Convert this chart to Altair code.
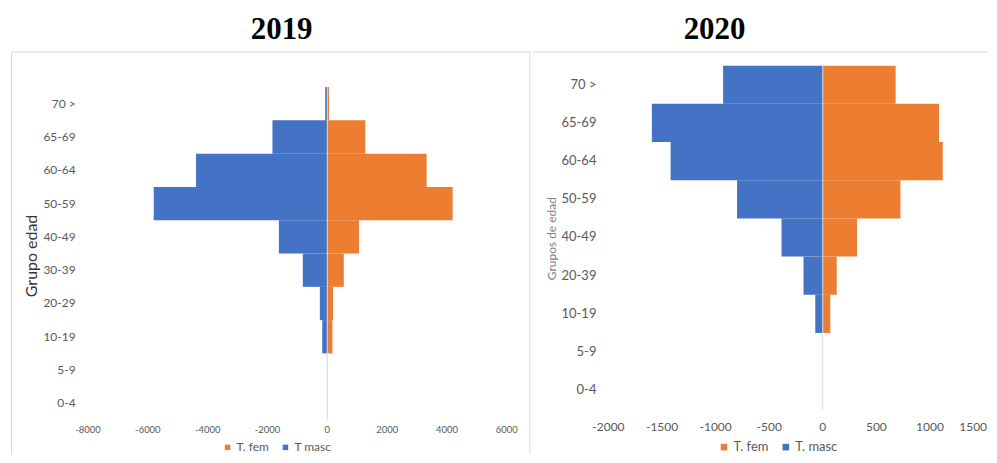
import altair as alt
import pandas as pd

# ---- data ----
grupos_2019 = ['70 >', '65-69', '60-64', '50-59', '40-49', '30-39', '20-29', '10-19', '5-9', '0-4']
fem_2019 = [55, 1270, 3320, 4190, 1060, 550, 190, 170, 0, 0]
masc_2019 = [-70, -1835, -4390, -5805, -1620, -820, -250, -170, 0, 0]
series_2019 = ['T. fem', 'T masc']
ticks_2019 = [-8000, -6000, -4000, -2000, 0, 2000, 4000, 6000]

grupos_2020 = ['70 >', '65-69', '60-64', '50-59', '40-49', '20-39', '10-19', '5-9', '0-4']
fem_2020 = [680, 1085, 1120, 725, 320, 130, 70, 0, 0]
masc_2020 = [-930, -1595, -1420, -800, -385, -180, -70, 0, 0]
series_2020 = ['T. fem', 'T. masc']
ticks_2020 = [-2000, -1500, -1000, -500, 0, 500, 1000, 1500]

colors = ['#ED7D31', '#4472C4']
FONT = 'Lato'
LABEL = '#595959'
BORDER = '#d9d9d9'


def panel(year, grupos, fem, masc, series, ticks, ytitle, W, H, xr, yr,
          xlab_y, xfs, yoff, yfs, title_x, ytitle_x, ytitle_y, ytitle_fs, ytitle_color,
          leg_x, leg_y, leg_fs, leg_sym, vlines, flush_last):
    rows = []
    for g, v in zip(grupos, fem):
        rows.append({'grupo': g, 'sexo': series[0], 'valor': v})
    for g, v in zip(grupos, masc):
        rows.append({'grupo': g, 'sexo': series[1], 'valor': v})
    df = pd.DataFrame(rows)

    xscale = alt.Scale(domain=[ticks[0], ticks[-1]], range=xr, nice=False)

    bars = alt.Chart(df).mark_bar().encode(
        x=alt.X('valor:Q', scale=xscale, axis=None),
        y=alt.Y('grupo:N',
                scale=alt.Scale(domain=grupos, range=yr, paddingInner=0, paddingOuter=0),
                axis=alt.Axis(grid=False, domain=False, ticks=False, tickSize=0,
                              labelPadding=0, offset=yoff, labelFont=FONT,
                              labelFontSize=yfs, labelColor=LABEL, labelOverlap=False),
                title=None),
        color=alt.Color('sexo:N',
                        scale=alt.Scale(domain=series, range=colors),
                        legend=alt.Legend(orient='none', legendX=leg_x, legendY=leg_y,
                                          direction='horizontal', title=None,
                                          symbolType='square', symbolSize=leg_sym,
                                          symbolStrokeWidth=0, labelFont=FONT,
                                          labelFontSize=leg_fs, labelColor=LABEL,
                                          labelOffset=3, columnPadding=10, padding=0)),
    )

    # value-axis tick labels, placed through the x scale
    labs = [str(t) for t in ticks]
    main_ticks = ticks[:-1] if flush_last else ticks
    main_labs = labs[:-1] if flush_last else labs
    xlabels = alt.Chart(pd.DataFrame({'v': main_ticks, 'lab': main_labs})).mark_text(
        font=FONT, fontSize=xfs, color=LABEL, align='center', baseline='middle').encode(
        x=alt.X('v:Q', scale=xscale, axis=None), y=alt.value(xlab_y), text='lab:N')
    text_layers = [xlabels]
    if flush_last:
        last = alt.Chart(pd.DataFrame({'v': ticks[-1:], 'lab': labs[-1:]})).mark_text(
            font=FONT, fontSize=xfs, color=LABEL, align='right', baseline='middle',
            dx=3.5).encode(
            x=alt.X('v:Q', scale=xscale, axis=None), y=alt.value(xlab_y), text='lab:N')
        text_layers.append(last)

    zero = alt.Chart(alt.Data(values=[{'v': 0}])).mark_rule(
        color=BORDER, strokeWidth=1).encode(
        x=alt.X('v:Q', scale=xscale, axis=None), y=alt.value(yr[0]), y2=alt.value(yr[1]))

    one = alt.Data(values=[{'a': 1}])
    borders = [alt.Chart(one).mark_rule(color=BORDER, strokeWidth=1).encode(
        x=alt.value(vx), y=alt.value(43.5), y2=alt.value(H)) for vx in vlines]
    top_border = alt.Chart(one).mark_rule(color=BORDER, strokeWidth=1).encode(
        x=alt.value(vlines[0] if vlines else 0), x2=alt.value(W), y=alt.value(43.5))

    title = alt.Chart(alt.Data(values=[{'t': year}])).mark_text(
        font='Liberation Serif', fontSize=31, fontWeight='bold', color='black',
        align='center', baseline='alphabetic').encode(
        x=alt.value(title_x), y=alt.value(30.3), text='t:N')

    yt = alt.Chart(alt.Data(values=[{'t': ytitle}])).mark_text(
        font=FONT, fontSize=ytitle_fs, color=ytitle_color, angle=270,
        align='center', baseline='middle').encode(
        x=alt.value(ytitle_x), y=alt.value(ytitle_y), text='t:N')

    layers = borders + [top_border, bars, zero] + text_layers + [title, yt]
    return alt.layer(*layers).properties(width=W, height=H)


H = 447
left = panel('2019', grupos_2019, fem_2019, masc_2019, series_2019, ticks_2019,
             'Grupo edad', W=524, H=H, xr=[80.3, 500.3], yr=[78.6, 412.6],
             xlab_y=423, xfs=9.5, yoff=-67.3, yfs=12,
             title_x=274.5, ytitle_x=24, ytitle_y=248, ytitle_fs=16, ytitle_color='#333333',
             leg_x=214.3, leg_y=434, leg_fs=12, leg_sym=30, vlines=[3.5, 523.5],
             flush_last=False)

right = panel('2020', grupos_2020, fem_2020, masc_2020, series_2020, ticks_2020,
              'Grupos de edad', W=457, H=H, xr=[76.3, 452.5], yr=[57.15, 401.85],
              xlab_y=419.7, xfs=12, yoff=-63.7, yfs=13,
              title_x=182.7, ytitle_x=19.7, ytitle_y=230.7, ytitle_fs=12, ytitle_color='#808080',
              leg_x=185.7, leg_y=433, leg_fs=13, leg_sym=44, vlines=[],
              flush_last=True)

chart = alt.hconcat(left, right, spacing=0).resolve_scale(
    x='independent', y='independent', color='independent'
).resolve_legend(color='independent').properties(
    padding=0, background='white'
).configure_view(stroke=None)

chart.save("out.html", embed_options={"renderer": "svg", "actions": False})
